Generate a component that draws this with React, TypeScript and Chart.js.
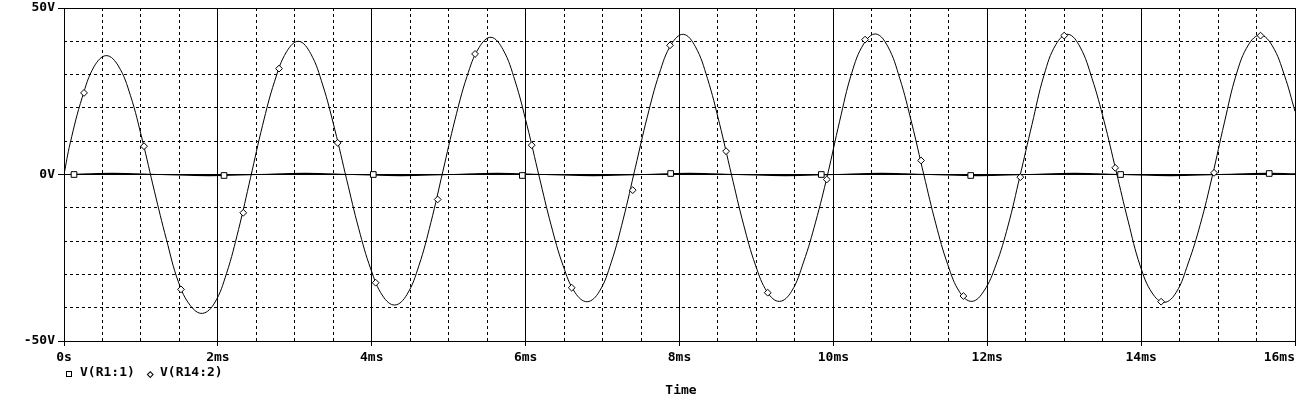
import React, { useEffect, useRef } from "react";
import { Chart, registerables } from "chart.js";

Chart.register(...registerables);

// ---- data (time in ms, voltage in V) ----
const timeR14: number[] = [
  0, 0.08125, 0.2375, 0.39375, 0.55, 0.70625, 0.8625, 1.01875, 1.175, 1.33125, 1.4875, 1.64375,
  1.8, 1.95625, 2.1125, 2.26875, 2.425, 2.58125, 2.7375, 2.89375, 3.05, 3.20625, 3.3625, 3.51875,
  3.675, 3.83125, 3.9875, 4.14375, 4.3, 4.45625, 4.6125, 4.76875, 4.925, 5.08125, 5.2375, 5.39375,
  5.55, 5.70625, 5.8625, 6.01875, 6.175, 6.33125, 6.4875, 6.64375, 6.8, 6.95625, 7.1125, 7.26875,
  7.425, 7.58125, 7.7375, 7.89375, 8.05, 8.20625, 8.3625, 8.51875, 8.675, 8.83125, 8.9875, 9.14375,
  9.3, 9.45625, 9.6125, 9.76875, 9.925, 10.08125, 10.2375, 10.39375, 10.55, 10.70625, 10.8625, 11.01875,
  11.175, 11.33125, 11.4875, 11.64375, 11.8, 11.95625, 12.1125, 12.26875, 12.425, 12.58125, 12.7375, 12.89375,
  13.05, 13.20625, 13.3625, 13.51875, 13.675, 13.83125, 13.9875, 14.14375, 14.3, 14.45625, 14.6125, 14.76875,
  14.925, 15.08125, 15.2375, 15.39375, 15.55, 15.70625, 15.8625, 16,
];
const vR14: number[] = [
  0, 9.5, 23.2, 32.5, 35.7, 32.6, 23.8, 10.3, -5.0, -19.5, -32.3, -39.4,
  -41.7, -38.6, -29.7, -16.5, -0.9, 14.8, 28.0, 36.9, 40.0, 36.3, 26.9, 13.6,
  -1.6, -16.3, -28.4, -36.5, -39.2, -36.1, -27.4, -14.4, 1.0, 16.4, 29.4, 38.1,
  41.2, 37.5, 28.1, 14.7, -0.5, -15.2, -27.4, -35.5, -38.2, -35.2, -26.4, -13.4,
  2.0, 17.3, 30.3, 39.1, 42.1, 38.4, 28.9, 15.4, 0.0, -14.9, -27.2, -35.4,
  -38.1, -35.1, -26.3, -14.3, 0.0, 16.0, 30.4, 39.2, 42.2, 38.5, 28.9, 15.4,
  0.0, -14.8, -27.1, -35.4, -38.1, -35.0, -27.2, -15.5, -0.5, 15.0, 29.8, 39.1,
  42.1, 38.3, 28.8, 16.0, 1.0, -14.0, -27.4, -35.6, -38.4, -35.4, -26.6, -15.0,
  -0.5, 15.5, 30.1, 38.9, 41.9, 38.6, 29.8, 19.0,
];

const timeR1: number[] = [
  0, 0.63, 1.255, 1.88, 2.505, 3.13, 3.755, 4.38, 5.005, 5.63, 6.255, 6.88, 7.505, 8.13,
  8.755, 9.38, 10.005, 10.63, 11.255, 11.88, 12.505, 13.13, 13.755, 14.38, 15.005, 15.63, 16,
];
const vR1: number[] = [
  0, 0.32, 0, -0.32, 0, 0.32, 0, -0.32, 0, 0.32, 0, -0.32, 0, 0.32,
  0, -0.32, 0, 0.32, 0, -0.32, 0, 0.32, 0, -0.32, 0, 0.32, 0.2,
];

const markR14Time: number[] = [
  0.26, 1.04, 1.52, 2.33, 2.795, 3.557, 4.051, 4.857, 5.343, 6.079, 6.599, 7.392, 7.877,
  8.605, 9.147, 9.914, 10.412, 11.14, 11.69, 12.43, 13.0, 13.663, 14.26, 14.948, 15.552,
];
const markR14Val: number[] = [
  24.5, 8.5, -34.5, -11.5, 31.8, 9.5, -32.5, -7.5, 36.2, 8.8, -34.0, -4.7, 38.8,
  7.0, -35.5, -1.5, 40.5, 4.2, -36.5, -0.8, 41.7, 2.0, -38.2, 0.5, 41.7,
];

const markR1Time: number[] = [0.13, 2.08, 4.02, 5.957, 7.885, 9.843, 11.785, 13.733, 15.665];
const markR1Val: number[] = [0, -0.3, 0, -0.3, 0.3, 0, -0.3, 0, 0.3];

const xTickLabels: string[] = ["0s", "2ms", "4ms", "6ms", "8ms", "10ms", "12ms", "14ms", "16ms"];
const yTickLabels: string[] = ["-50V", "0V", "50V"];

const seriesNames: string[] = ["V(R1:1)", "V(R14:2)"];
const xTitle = "Time";

const FONT = "'DejaVu Sans Mono', 'Liberation Mono', monospace";

const pts = (xs: number[], ys: number[]) => xs.map((x, i) => ({ x, y: ys[i] }));

const noPad = (s: any) => {
  s.paddingLeft = 0;
  s.paddingRight = 0;
  s.paddingTop = 0;
  s.paddingBottom = 0;
};

export default function App() {
  const ref = useRef<HTMLCanvasElement | null>(null);

  useEffect(() => {
    if (!ref.current) return;
    const tickFont = { family: FONT, size: 13, weight: "bold" as const };
    const chart = new Chart(ref.current, {
      type: "line",
      data: {
        datasets: [
          {
            label: seriesNames[1] + " markers",
            data: pts(markR14Time, markR14Val),
            showLine: false,
            pointStyle: "rectRot",
            pointRadius: 3.4,
            pointBorderWidth: 1,
            pointBorderColor: "#000",
            pointBackgroundColor: "#fff",
            order: 0,
          },
          {
            label: seriesNames[0] + " markers",
            data: pts(markR1Time, markR1Val),
            showLine: false,
            pointStyle: "rect",
            pointRadius: 4,
            pointBorderWidth: 1,
            pointBorderColor: "#000",
            pointBackgroundColor: "#fff",
            order: 0,
          },
          {
            label: seriesNames[1],
            data: pts(timeR14, vR14),
            borderColor: "#000",
            borderWidth: 1,
            pointRadius: 0,
            tension: 0.4,
            fill: false,
            order: 1,
          },
          {
            label: seriesNames[0],
            data: pts(timeR1, vR1),
            borderColor: "#000",
            borderWidth: 1.2,
            pointRadius: 0,
            tension: 0.4,
            fill: false,
            order: 1,
          },
        ],
      },
      options: {
        animation: false,
        responsive: false,
        devicePixelRatio: 1,
        events: [],
        layout: { padding: { left: 0, right: 6, top: 8, bottom: 0 }, autoPadding: false } as any,
        plugins: {
          legend: { display: false },
          tooltip: { enabled: false },
          title: { display: false },
        },
        scales: {
          xMinor: {
            type: "linear",
            position: "bottom",
            min: 0,
            max: 16,
            ticks: { stepSize: 0.5, display: false },
            grid: { color: "#000", lineWidth: 1, drawTicks: false },
            border: { display: false, dash: [3, 3] },
            afterFit: (s: any) => {
              s.height = 0;
              noPad(s);
            },
          },
          x: {
            type: "linear",
            position: "bottom",
            min: 0,
            max: 16,
            ticks: {
              stepSize: 2,
              autoSkip: false,
              maxRotation: 0,
              color: "#000",
              font: tickFont,
              padding: 4,
              callback: (_v: any, i: number) =>
                i === xTickLabels.length - 1 ? xTickLabels[i] + "    " : xTickLabels[i],
            },
            grid: { color: "#000", lineWidth: 1, tickLength: 5, tickColor: "#000" },
            border: { display: true, color: "#000", width: 1 },
            afterFit: (s: any) => {
              s.height = 58;
              noPad(s);
            },
          },
          yMinor: {
            type: "linear",
            position: "left",
            min: -50,
            max: 50,
            ticks: { stepSize: 10, display: false },
            grid: { color: "#000", lineWidth: 1, drawTicks: false },
            border: { display: false, dash: [3, 3] },
            afterFit: (s: any) => {
              s.width = 0;
              noPad(s);
            },
          },
          y: {
            type: "linear",
            position: "left",
            min: -50,
            max: 50,
            ticks: {
              stepSize: 50,
              color: "#000",
              font: tickFont,
              padding: 3,
              callback: (_v: any, i: number) => yTickLabels[i],
            },
            grid: { color: "#000", lineWidth: 1, tickLength: 6, tickColor: "#000" },
            border: { display: true, color: "#000", width: 1 },
            afterFit: (s: any) => {
              s.width = 64;
              noPad(s);
            },
          },
        },
      } as any,
    });
    return () => chart.destroy();
  }, []);

  const textStyle: React.CSSProperties = {
    position: "absolute",
    fontFamily: FONT,
    fontSize: 13,
    fontWeight: "bold",
    lineHeight: "15px",
    whiteSpace: "pre",
    color: "#000",
  };

  return (
    <div
      style={{
        position: "absolute",
        left: 0,
        top: 0,
        width: 1301,
        height: 399,
        background: "#fff",
        overflow: "hidden",
      }}
    >
      <canvas ref={ref} width={1301} height={399} style={{ display: "block", width: 1301, height: 399 }} />
      <div
        style={{
          position: "absolute",
          left: 66,
          top: 371,
          width: 6,
          height: 6,
          border: "1px solid #000",
          boxSizing: "border-box",
        }}
      />
      <div style={{ ...textStyle, left: 80, top: 364 }}>{seriesNames[0]}</div>
      <div
        style={{
          position: "absolute",
          left: 147.5,
          top: 371.5,
          width: 4.5,
          height: 4.5,
          border: "1px solid #000",
          boxSizing: "border-box",
          transform: "rotate(45deg)",
        }}
      />
      <div style={{ ...textStyle, left: 160, top: 364 }}>{seriesNames[1]}</div>
      <div style={{ ...textStyle, left: 681, top: 382, transform: "translateX(-50%)" }}>{xTitle}</div>
    </div>
  );
}
